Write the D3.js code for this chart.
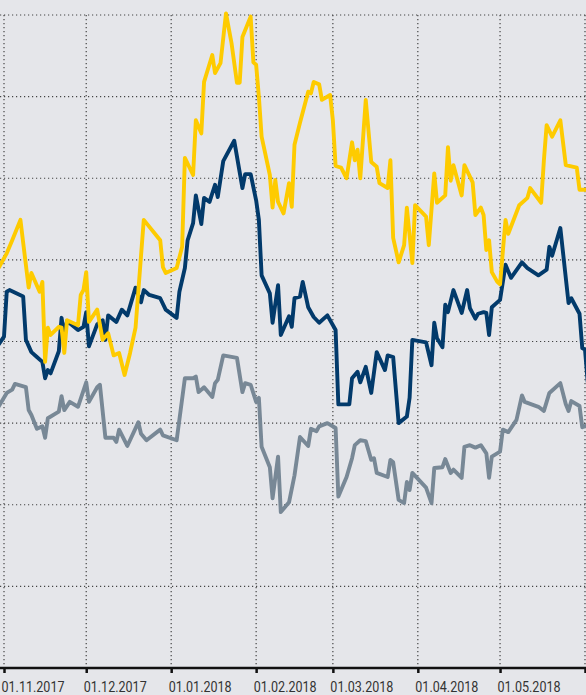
<!DOCTYPE html>
<meta charset="utf-8">
<script src="https://d3js.org/d3.v7.min.js"></script>
<style>
  html, body { margin: 0; padding: 0; background: #e5e6ea; overflow: hidden; }
  .tick text { font-family: Roboto, 'DejaVu Sans Condensed', sans-serif; }
</style>

<svg id="vis"></svg>

<script>
  // values (index change, %)
  var yellowSeries = [
    ["2017-10-30",9.0],["2017-11-02",10.8],["2017-11-04",12.4],["2017-11-07",14.9],["2017-11-08",12.1],
    ["2017-11-10",6.6],["2017-11-11",8.4],["2017-11-14",6.1],["2017-11-15",7.3],["2017-11-16",-2.5],
    ["2017-11-17",1.7],["2017-11-18",0.8],["2017-11-21",1.8],["2017-11-22",1.7],["2017-11-23",-1.4],
    ["2017-11-24",2.6],["2017-11-28",2.0],["2017-11-29",5.7],["2017-11-30",6.3],["2017-12-01",8.5],
    ["2017-12-02",2.4],["2017-12-05",3.9],["2017-12-07",0.2],["2017-12-09",1.0],["2017-12-11",-1.7],
    ["2017-12-13",-1.4],["2017-12-15",-4.1],["2017-12-17",-1.4],["2017-12-19",1.7],["2017-12-22",14.9],
    ["2017-12-28",12.4],["2017-12-29",9.1],["2017-12-30",8.4],["2018-01-03",9.0],["2018-01-05",11.6],
    ["2018-01-06",22.5],["2018-01-09",20.4],["2018-01-10",27.1],["2018-01-12",25.5],["2018-01-13",31.8],
    ["2018-01-16",35.1],["2018-01-17",32.9],["2018-01-19",34.1],["2018-01-21",40.2],["2018-01-23",36.6],
    ["2018-01-25",31.7],["2018-01-26",31.7],["2018-01-27",37.3],["2018-01-30",39.8],["2018-01-31",34.2],
    ["2018-02-01",33.9],["2018-02-02",30.0],["2018-02-03",25.1],["2018-02-06",20.4],["2018-02-07",16.4],
    ["2018-02-08",19.8],["2018-02-09",17.1],["2018-02-11",15.7],["2018-02-13",19.4],["2018-02-14",16.5],
    ["2018-02-15",24.1],["2018-02-17",26.8],["2018-02-20",30.6],["2018-02-21",30.4],["2018-02-22",31.8],
    ["2018-02-24",31.5],["2018-02-25",29.6],["2018-02-28",30.2],["2018-03-01",27.1],["2018-03-02",21.5],
    ["2018-03-04",21.3],["2018-03-06",20.0],["2018-03-08",24.4],["2018-03-09",22.2],["2018-03-10",23.5],
    ["2018-03-11",20.0],["2018-03-13",29.6],["2018-03-15",22.0],["2018-03-17",21.4],["2018-03-18",19.4],
    ["2018-03-21",18.8],["2018-03-22",22.2],["2018-03-23",12.7],["2018-03-25",9.7],["2018-03-27",11.8],
    ["2018-03-28",16.4],["2018-03-30",9.6],["2018-03-31",16.7],["2018-04-04",15.3],["2018-04-05",11.8],
    ["2018-04-07",20.6],["2018-04-08",17.0],["2018-04-11",17.9],["2018-04-12",23.8],["2018-04-13",19.7],
    ["2018-04-14",21.6],["2018-04-17",17.9],["2018-04-18",21.6],["2018-04-21",19.5],["2018-04-22",15.5],
    ["2018-04-24",16.4],["2018-04-25",15.5],["2018-04-26",11.2],["2018-04-27",12.4],["2018-04-28",8.5],
    ["2018-04-30",7.3],["2018-05-01",7.0],["2018-05-03",14.9],["2018-05-04",13.2],["2018-05-08",16.7],
    ["2018-05-11",17.6],["2018-05-12",18.8],["2018-05-16",17.0],["2018-05-17",22.2],["2018-05-18",26.5],
    ["2018-05-20",25.1],["2018-05-23",27.1],["2018-05-25",21.6],["2018-05-29",21.3],["2018-05-30",18.6],
    ["2018-06-02",18.6]
  ]

  var navySeries = [
    ["2017-10-30",-0.4],["2017-11-01",0.6],["2017-11-02",6.1],["2017-11-03",6.3],["2017-11-08",5.5],
    ["2017-11-09",0.2],["2017-11-11",-1.3],["2017-11-13",-1.9],["2017-11-15",-2.5],["2017-11-16",-4.5],
    ["2017-11-17",-3.5],["2017-11-18",-3.9],["2017-11-21",-1.2],["2017-11-22",2.9],["2017-11-23",0.8],
    ["2017-11-24",2.5],["2017-11-28",1.4],["2017-11-30",1.8],["2017-12-01",3.6],["2017-12-02",-0.6],
    ["2017-12-05",2.1],["2017-12-07",2.6],["2017-12-08",0.2],["2017-12-09",3.2],["2017-12-12",2.4],
    ["2017-12-14",3.9],["2017-12-16",3.2],["2017-12-19",6.6],["2017-12-21",4.8],["2017-12-22",6.3],
    ["2017-12-24",5.7],["2017-12-28",5.3],["2017-12-30",3.9],["2018-01-03",2.9],["2018-01-04",6.1],
    ["2018-01-06",9.0],["2018-01-07",12.4],["2018-01-09",14.5],["2018-01-10",17.9],["2018-01-12",14.4],
    ["2018-01-13",17.6],["2018-01-15",17.1],["2018-01-17",19.2],["2018-01-18",17.7],["2018-01-20",22.1],
    ["2018-01-24",24.6],["2018-01-27",18.8],["2018-01-28",20.5],["2018-01-30",20.5],["2018-02-01",17.3],
    ["2018-02-02",14.9],["2018-02-03",8.1],["2018-02-06",5.9],["2018-02-07",2.3],["2018-02-09",6.9],
    ["2018-02-10",0.8],["2018-02-13",3.1],["2018-02-14",1.8],["2018-02-15",5.3],["2018-02-17",5.5],
    ["2018-02-18",7.3],["2018-02-20",4.2],["2018-02-22",3.0],["2018-02-24",2.3],["2018-02-27",3.2],
    ["2018-03-02",1.4],["2018-03-03",-7.7],["2018-03-07",-7.7],["2018-03-08",-4.5],["2018-03-10",-3.7],
    ["2018-03-11",-5.0],["2018-03-13",-3.1],["2018-03-15",-6.3],["2018-03-17",-1.3],["2018-03-20",-3.5],
    ["2018-03-21",-1.7],["2018-03-23",-1.9],["2018-03-25",-10.0],["2018-03-28",-9.2],["2018-03-29",-6.9],
    ["2018-03-30",0.2],["2018-04-04",-0.1],["2018-04-06",-2.9],["2018-04-07",2.3],["2018-04-08",0.4],
    ["2018-04-10",-0.7],["2018-04-11",4.5],["2018-04-12",3.6],["2018-04-14",6.3],["2018-04-17",3.5],
    ["2018-04-19",6.3],["2018-04-20",4.1],["2018-04-22",2.8],["2018-04-23",3.4],["2018-04-25",3.6],
    ["2018-04-26",3.5],["2018-04-27",0.8],["2018-04-28",4.2],["2018-05-01",5.1],["2018-05-03",9.4],
    ["2018-05-05",7.8],["2018-05-09",9.7],["2018-05-11",9.0],["2018-05-15",8.1],["2018-05-18",8.8],
    ["2018-05-19",11.6],["2018-05-20",10.5],["2018-05-23",13.9],["2018-05-26",4.7],["2018-05-27",5.3],
    ["2018-05-30",3.4],["2018-05-31",-0.8],["2018-06-01",-1.0],["2018-06-02",-5.0]
  ]

  var graySeries = [
    ["2017-10-30",-8.0],["2017-11-02",-6.3],["2017-11-04",-5.9],["2017-11-05",-5.2],["2017-11-09",-5.6],
    ["2017-11-10",-8.4],["2017-11-11",-9.0],["2017-11-13",-10.7],["2017-11-15",-10.4],["2017-11-16",-11.8],
    ["2017-11-17",-9.4],["2017-11-21",-8.6],["2017-11-22",-6.7],["2017-11-23",-8.4],["2017-11-25",-7.4],
    ["2017-11-28",-8.0],["2017-12-01",-5.0],["2017-12-02",-7.4],["2017-12-05",-5.6],["2017-12-06",-5.3],
    ["2017-12-08",-11.8],["2017-12-11",-11.8],["2017-12-12",-12.3],["2017-12-13",-10.8],["2017-12-16",-12.8],
    ["2017-12-20",-9.9],["2017-12-21",-11.3],["2017-12-23",-12.1],["2017-12-28",-10.8],["2017-12-29",-11.5],
    ["2018-01-03",-12.1],["2018-01-06",-4.5],["2018-01-09",-4.5],["2018-01-10",-4.3],["2018-01-11",-6.2],
    ["2018-01-13",-5.6],["2018-01-16",-6.8],["2018-01-17",-5.1],["2018-01-18",-4.7],["2018-01-20",-1.7],
    ["2018-01-25",-2.0],["2018-01-27",-6.2],["2018-01-28",-5.1],["2018-01-30",-5.3],["2018-02-01",-7.4],
    ["2018-02-02",-6.9],["2018-02-03",-12.9],["2018-02-06",-15.4],["2018-02-07",-19.2],["2018-02-09",-14.1],
    ["2018-02-10",-20.9],["2018-02-13",-19.7],["2018-02-15",-16.4],["2018-02-17",-11.7],["2018-02-20",-12.8],
    ["2018-02-21",-10.7],["2018-02-23",-11.0],["2018-02-24",-10.4],["2018-02-27",-10.0],["2018-03-02",-10.6],
    ["2018-03-03",-19.0],["2018-03-06",-16.6],["2018-03-08",-14.3],["2018-03-09",-12.7],["2018-03-11",-12.1],
    ["2018-03-13",-12.2],["2018-03-15",-14.5],["2018-03-16",-14.3],["2018-03-17",-16.1],["2018-03-21",-16.6],
    ["2018-03-22",-14.5],["2018-03-23",-14.8],["2018-03-25",-19.4],["2018-03-27",-19.8],["2018-03-28",-17.2],
    ["2018-03-29",-18.2],["2018-03-30",-16.1],["2018-04-04",-17.9],["2018-04-06",-19.8],["2018-04-07",-15.5],
    ["2018-04-10",-15.4],["2018-04-11",-14.4],["2018-04-13",-16.1],["2018-04-14",-15.7],["2018-04-17",-16.7],
    ["2018-04-18",-12.9],["2018-04-20",-12.7],["2018-04-22",-13.0],["2018-04-24",-12.7],["2018-04-26",-13.7],
    ["2018-04-27",-16.7],["2018-04-28",-14.1],["2018-05-01",-13.5],["2018-05-02",-10.8],["2018-05-04",-11.1],
    ["2018-05-07",-9.6],["2018-05-09",-6.6],["2018-05-10",-7.4],["2018-05-15",-8.0],["2018-05-17",-8.5],
    ["2018-05-19",-6.3],["2018-05-23",-5.1],["2018-05-25",-7.7],["2018-05-26",-8.5],["2018-05-27",-7.3],
    ["2018-05-30",-7.9],["2018-05-31",-10.5],["2018-06-02",-10.2]
  ]

  var monthTicks = ["2017-11-01","2017-12-01","2018-01-01","2018-02-01","2018-03-01","2018-04-01","2018-05-01","2018-06-01"]
  // the last tick runs off the edge, so it gets no label
  var monthLabels = ["01.11.2017","01.12.2017","01.01.2018","01.02.2018","01.03.2018","01.04.2018","01.05.2018",""]
  var yTicks = [-40, -30, -20, -10, 0, 10, 20, 30, 40]

  var width = 586
  var height = 695
  var margin = {top: 15, bottom: 27}

  var svg = d3.select('#vis')
    .attr('width', width)
    .attr('height', height)

  svg.append('rect')
    .attr('width', width)
    .attr('height', height)
    .attr('fill', '#e5e6ea')

  var parse = d3.timeParse("%Y-%m-%d")

  var x_scale = d3.scaleTime()
    .domain([parse("2017-11-01"), parse("2018-06-01")])
    .range([4, 585])

  var y_scale = d3.scaleLinear()
    .domain([-40, 40])
    .range([height - margin.bottom, margin.top])

  // grid
  svg.append('g')
    .selectAll('line')
    .data(yTicks.slice(1))
    .enter().append('line')
      .attr('x1', 0)
      .attr('x2', width)
      .attr('y1', function (d) { return y_scale(d) })
      .attr('y2', function (d) { return y_scale(d) })
      .attr('stroke', '#444')
      .attr('stroke-width', 1.2)
      .attr('stroke-dasharray', '1.2,2.8')

  svg.append('g')
    .selectAll('line')
    .data(monthTicks)
    .enter().append('line')
      .attr('x1', function (d) { return x_scale(parse(d)) })
      .attr('x2', function (d) { return x_scale(parse(d)) })
      .attr('y1', y_scale(40))
      .attr('y2', y_scale(-40))
      .attr('stroke', '#444')
      .attr('stroke-width', 1.2)
      .attr('stroke-dasharray', '1.2,2.8')

  // lines
  var line = d3.line()
    .x(function (d) { return x_scale(parse(d[0])) })
    .y(function (d) { return y_scale(d[1]) })

  var series = [
    {data: graySeries, color: '#788896'},
    {data: navySeries, color: '#023a6b'},
    {data: yellowSeries, color: '#fecb00'}
  ]

  svg.selectAll('path.series')
    .data(series)
    .enter().append('path')
      .attr('class', 'series')
      .attr('d', function (d) { return line(d.data) })
      .attr('fill', 'none')
      .attr('stroke', function (d) { return d.color })
      .attr('stroke-width', 3.9)
      .attr('stroke-linejoin', 'round')

  // x axis
  var x_axis = d3.axisBottom(x_scale)
    .tickValues(monthTicks.map(parse))
    .tickSize(5)
    .tickFormat(function (d, i) { return monthLabels[i] })

  var ax = svg.append('g')
    .attr('transform', 'translate(0,' + y_scale(-40) + ')')
    .call(x_axis)

  ax.select('.domain').remove()
  ax.selectAll('.tick line')
    .attr('stroke', '#111')
    .attr('stroke-width', 2.5)
  ax.selectAll('.tick text')
    .filter(function () { return this.textContent === "" })
    .remove()
  ax.selectAll('.tick text')
    .attr('text-anchor', 'start')
    .attr('x', -3)
    .attr('y', 24)
    .attr('dy', 0)
    .attr('fill', '#333')
    .attr('font-size', 15.5)
    .attr('textLength', 63)
    .attr('lengthAdjust', 'spacingAndGlyphs')

  svg.append('line')
    .attr('x1', 0)
    .attr('x2', width)
    .attr('y1', y_scale(-40))
    .attr('y2', y_scale(-40))
    .attr('stroke', '#111')
    .attr('stroke-width', 2.5)
</script>
